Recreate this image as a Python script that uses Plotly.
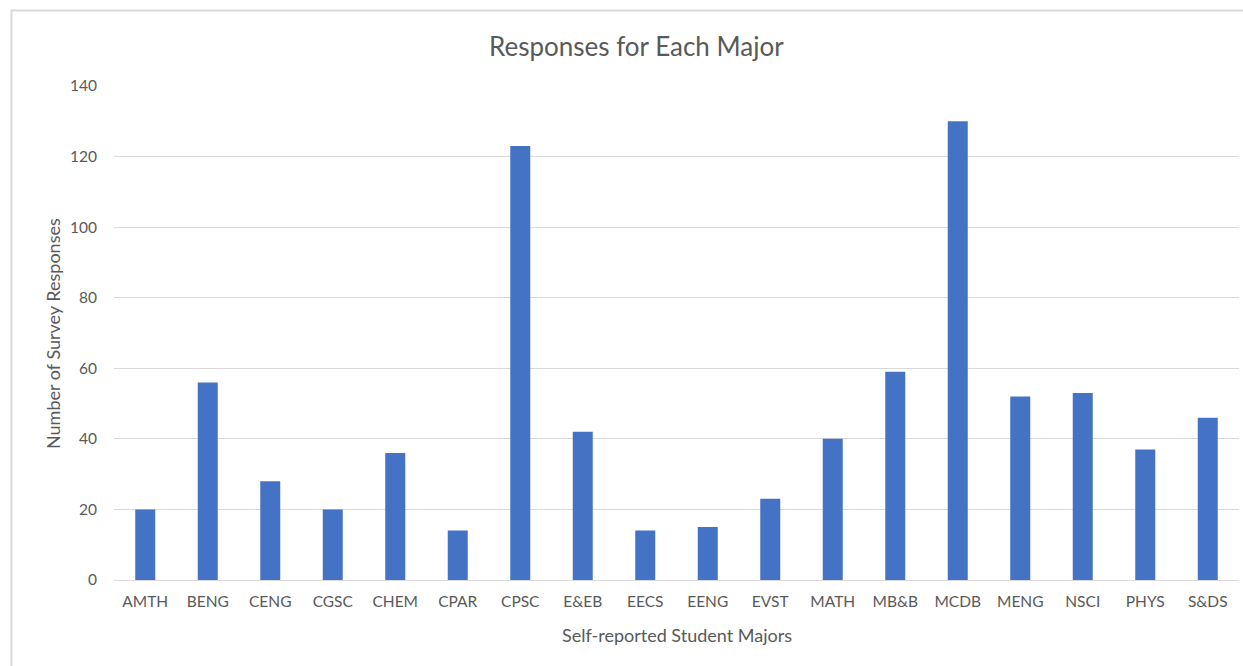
import plotly.graph_objects as go

majors = ["AMTH", "BENG", "CENG", "CGSC", "CHEM", "CPAR", "CPSC", "E&EB", "EECS",
          "EENG", "EVST", "MATH", "MB&B", "MCDB", "MENG", "NSCI", "PHYS", "S&DS"]
responses = [20, 56, 28, 20, 36, 14, 123, 42, 14, 15, 23, 40, 59, 130, 52, 53, 37, 46]
y_ticks = [0, 20, 40, 60, 80, 100, 120, 140]

W, H = 1243, 666
L, R, T, B = 114, 4, 86, 86
pw, ph = W - L - R, H - T - B


def px_x(p):
    return (p - L) / pw


def px_y(q):
    return (H - B - q) / ph


FONT = "Lato, 'Open Sans', sans-serif"
TXT = "#595959"

fig = go.Figure(go.Bar(
    x=majors, y=responses,
    marker=dict(color="#4472C4", line=dict(width=0)),
    hovertemplate="%{x}: %{y}<extra></extra>",
))

fig.update_layout(
    width=W, height=H,
    margin=dict(l=L, r=R, t=T, b=B),
    paper_bgcolor="white", plot_bgcolor="white",
    bargap=0.68,
    showlegend=False,
    font=dict(family=FONT, color=TXT, size=15),
    xaxis=dict(
        showgrid=False, showline=True, linecolor="#d9d9d9", linewidth=1,
        ticks="", tickfont=dict(size=15.5, color=TXT), ticklabelstandoff=7,
    ),
    yaxis=dict(
        range=[0, 140], tickvals=y_ticks, showgrid=True, gridcolor="#d9d9d9",
        gridwidth=1, zeroline=False, showline=False, ticks="",
        tickfont=dict(size=15.5, color=TXT), ticklabelstandoff=16,
    ),
    shapes=[dict(
        type="rect", xref="paper", yref="paper",
        x0=px_x(11.5), x1=px_x(W + 20), y0=px_y(H + 20), y1=px_y(10.5),
        line=dict(color="#d9d9d9", width=2), fillcolor="rgba(0,0,0,0)", layer="below",
    )],
    annotations=[
        dict(text="Responses for Each Major", xref="paper", yref="paper",
             x=px_x(636), y=px_y(46), showarrow=False, xanchor="center", yanchor="middle",
             font=dict(size=26, color=TXT, family=FONT)),
        dict(text="Number of Survey Responses", xref="paper", yref="paper",
             x=px_x(53), y=px_y(334), showarrow=False, textangle=-90,
             xanchor="center", yanchor="middle",
             font=dict(size=18, color=TXT, family=FONT)),
        dict(text="Self-reported Student Majors", xref="paper", yref="paper",
             x=px_x(677), y=px_y(635), showarrow=False, xanchor="center", yanchor="middle",
             font=dict(size=18, color=TXT, family=FONT)),
    ],
)

fig.write_html("out.html")
